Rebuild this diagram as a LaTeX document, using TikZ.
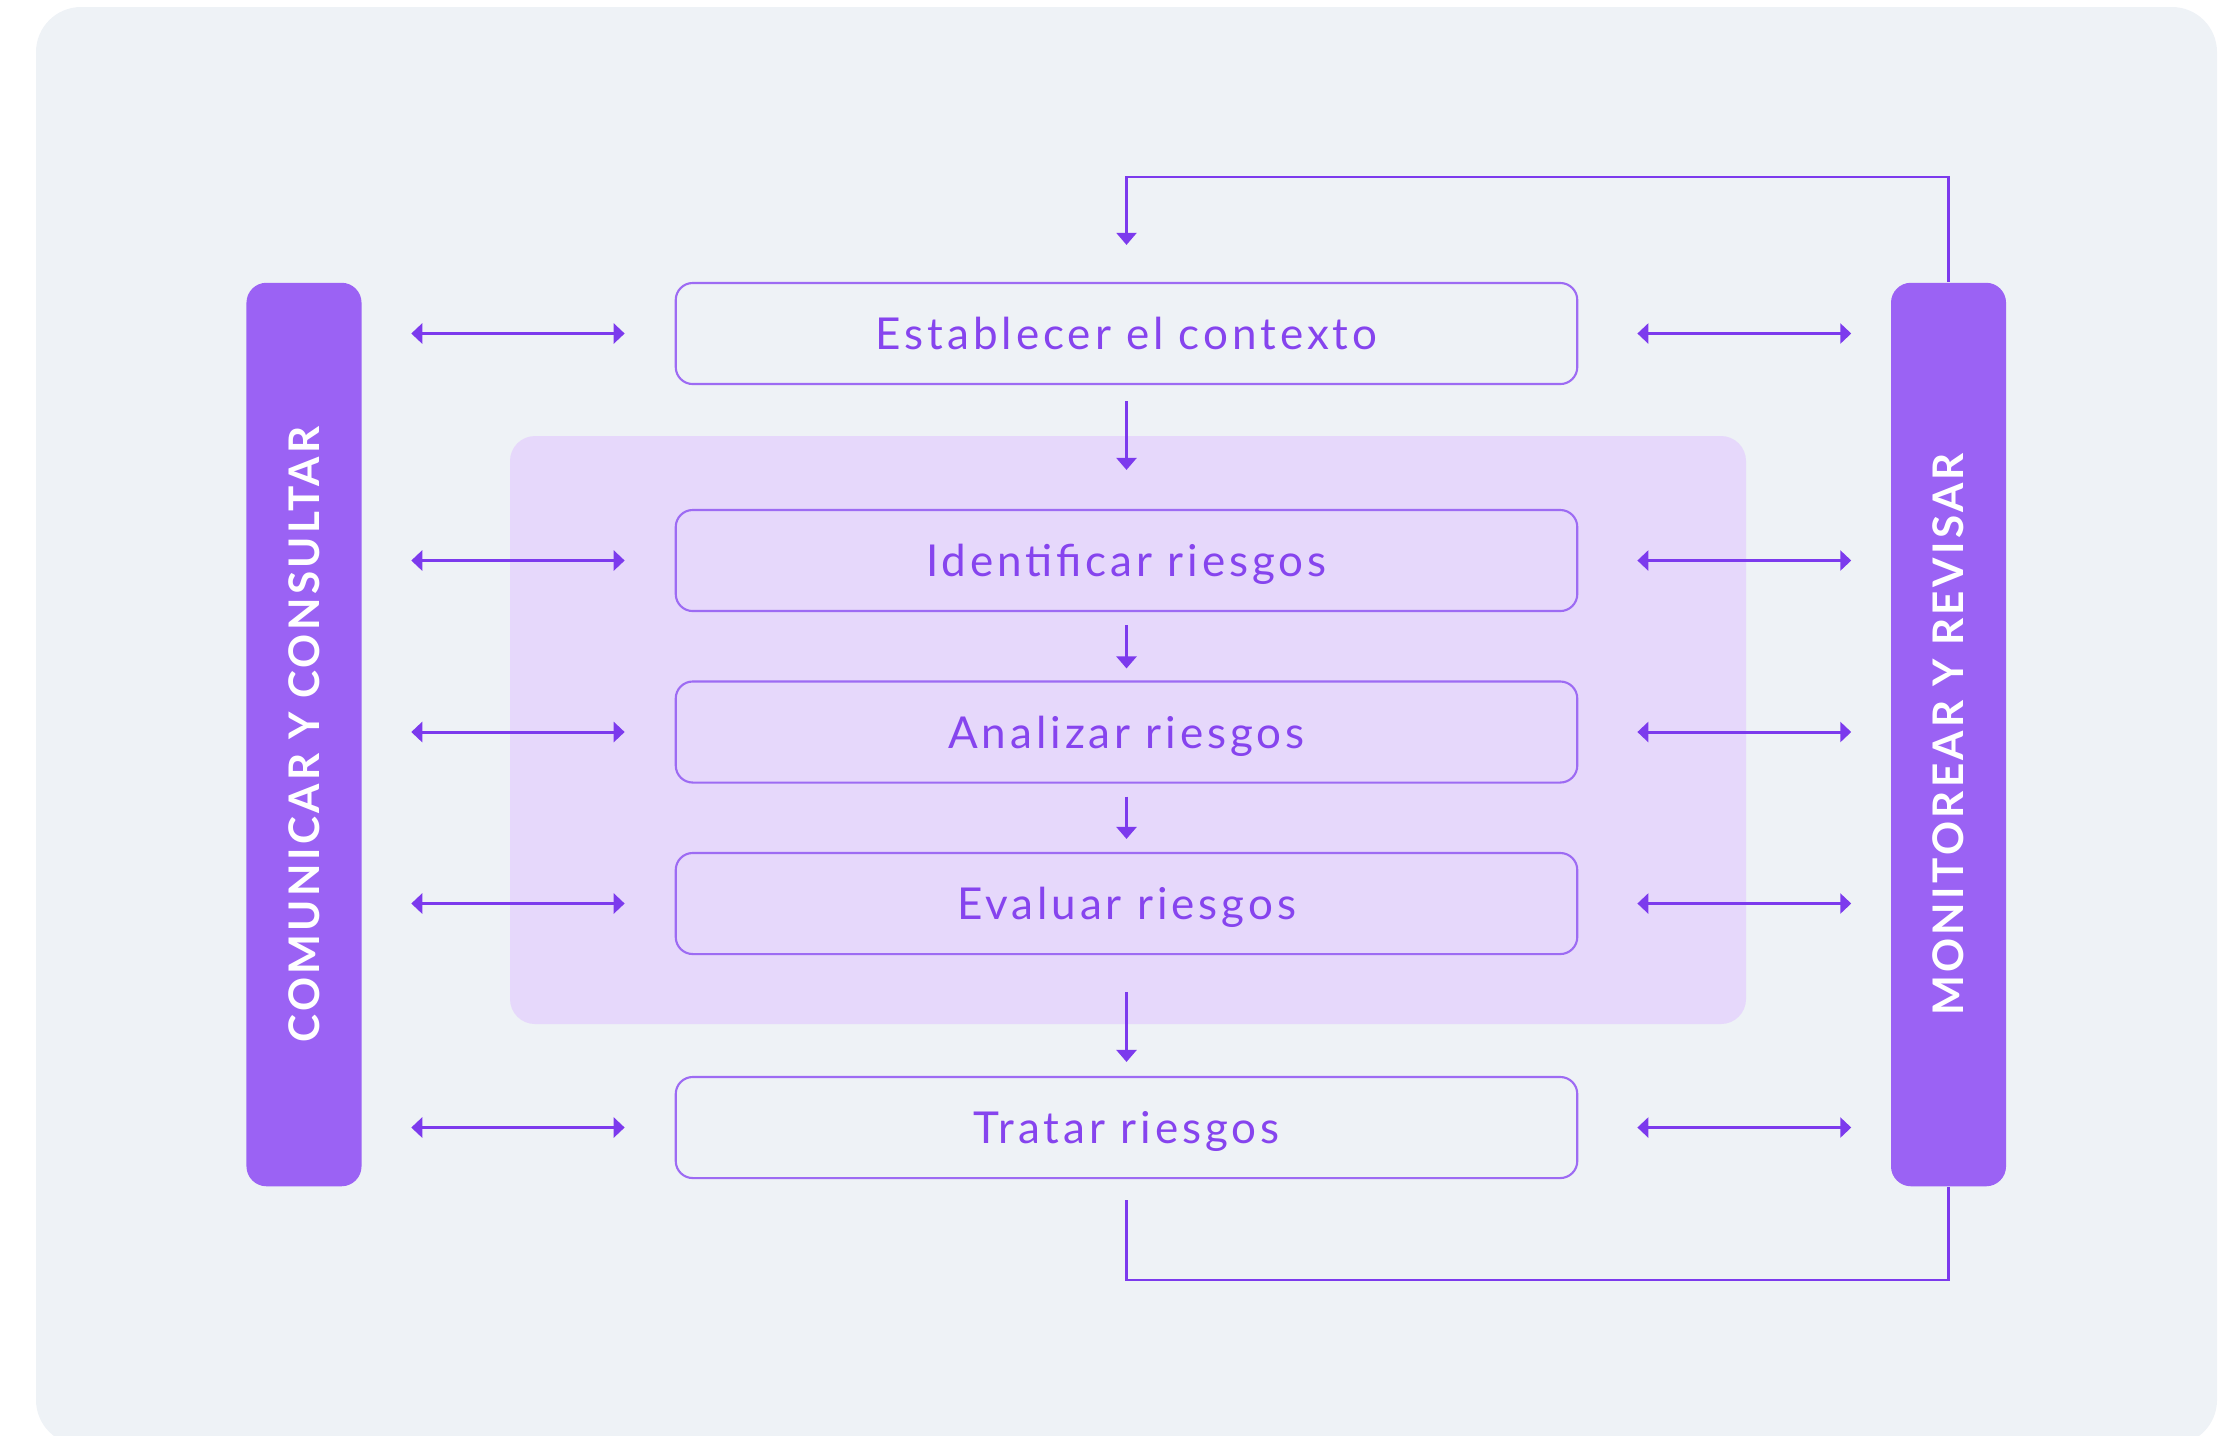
\documentclass[tikz,border=0pt]{standalone}
\usepackage{fontspec}
\setmainfont{Lato}
\newfontfamily\stepfont{Lato}[LetterSpace=9]
\newfontfamily\sidefont{Lato}[LetterSpace=8]
\usetikzlibrary{arrows.meta}

\definecolor{bgcol}{HTML}{EEF2F6}
\definecolor{panelcol}{HTML}{E6D8FB}
\definecolor{barcol}{HTML}{9B62F4}
\definecolor{boxline}{HTML}{9D6BF3}
\definecolor{arrowcol}{HTML}{7C3AED}
\definecolor{steptext}{HTML}{8644EE}

\begin{document}
\begin{tikzpicture}[x=0.01cm,y=-0.01cm,
    stepbox/.style={draw=boxline,line width=0.6pt,rounded corners=0.17cm,
        minimum width=9.01cm,minimum height=1.01cm,inner sep=0pt,
        text depth=0pt,
        text=steptext,font=\stepfont\fontsize{12.5}{15}\selectfont},
    sidebar/.style={fill=barcol,rounded corners=0.2cm,
        minimum width=1.15cm,minimum height=9.03cm,inner sep=0pt},
    sidelabel/.style={rotate=90,text=white,
        font=\sidefont\bfseries\fontsize{12}{14}\selectfont},
    biarrow/.style={arrowcol,line width=0.85pt,{Triangle[length=0.11cm,width=0.2cm]}-{Triangle[length=0.11cm,width=0.2cm]}},
    downarrow/.style={arrowcol,line width=0.7pt,-{Triangle[length=0.12cm,width=0.2cm]}},
    loopline/.style={arrowcol,line width=0.6pt}]
        \useasboundingbox (0,0) rectangle (2240,1435);

        % Layers
        \path [fill=bgcol,rounded corners=0.45cm] (36,7) rectangle (2217,1445);
        \path [fill=panelcol,rounded corners=0.25cm] (510,436) rectangle (1746,1024);

        % Side bars
        \node [sidebar] (cc) at (304,734.5) {};
        \node [sidelabel] (cclabel) at (cc) {COMUNICAR Y CONSULTAR};
        \node [sidebar] (mon) at (1948.5,734.5) {};
        \node [sidelabel] (monlabel) at (mon) {MONITOREAR Y REVISAR};

        % Steps
        \node [stepbox] (est) at (1126.5,333.5) {Establecer el contexto};
        \node [stepbox] (ide) at (1126.5,560.5) {Identificar riesgos};
        \node [stepbox] (ana) at (1126.5,732) {Analizar riesgos};
        \node [stepbox] (eva) at (1126.5,903.5) {Evaluar riesgos};
        \node [stepbox] (tra) at (1126.5,1127.5) {Tratar riesgos};

        % Side arrows
        \foreach \s in {est,ide,ana,eva,tra} {
            \draw [biarrow,shorten <=0.49cm,shorten >=0.5cm] (cc.east |- \s) -- (\s.west);
            \draw [biarrow,shorten <=0.59cm,shorten >=0.39cm] (\s.east) -- (mon.west |- \s);
        }

        % Flow
        \draw [downarrow,shorten <=0.16cm,shorten >=0.39cm] (est.south) -- (ide.north);
        \draw [downarrow,shorten <=0.13cm,shorten >=0.12cm] (ide.south) -- (ana.north);
        \draw [downarrow,shorten <=0.13cm,shorten >=0.13cm] (ana.south) -- (eva.north);
        \draw [downarrow,shorten <=0.37cm,shorten >=0.14cm] (eva.south) -- (tra.north);

        % Feedback loop
        \coordinate (looptop) at (1126.5,177);
        \coordinate (loopbot) at (1126.5,1280);
        \draw [loopline,-{Triangle[length=0.12cm,width=0.2cm]},shorten >=0.37cm]
            (mon.north) -- (mon.north |- looptop) -- (looptop) -- (est.north);
        \draw [loopline,shorten <=0.21cm]
            (tra.south) -- (loopbot) -- (loopbot -| mon.south) -- (mon.south);
    \end{tikzpicture}
\end{document}
